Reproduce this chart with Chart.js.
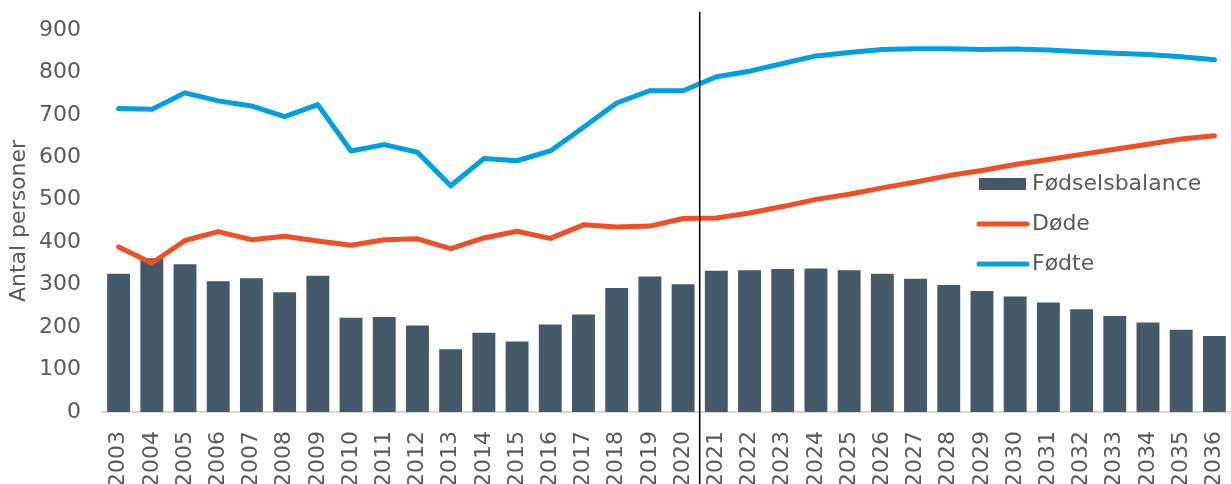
<!DOCTYPE html>
<html>
<head>
<meta charset="utf-8">
<script src="https://cdn.jsdelivr.net/npm/chart.js@4"></script>
<style>
    body { margin: 0; background: #fff; }
</style>
</head>
<body>
<canvas id="chart" width="1231" height="484"></canvas>
<script>
const years = ['2003', '2004', '2005', '2006', '2007', '2008', '2009', '2010', '2011', '2012',
    '2013', '2014', '2015', '2016', '2017', '2018', '2019', '2020', '2021', '2022', '2023',
    '2024', '2025', '2026', '2027', '2028', '2029', '2030', '2031', '2032', '2033', '2034',
    '2035', '2036'];

// Fødte (births)
const fodte = [715, 713, 752, 733, 721, 696, 724, 615, 630, 612, 533, 597, 592, 615, 671, 728,
    757, 757, 790, 803, 821, 839, 847, 854, 856, 856, 854, 855, 853, 849, 845, 842, 837, 830];

// Døde (deaths)
const dode = [389, 351, 404, 425, 406, 414, 403, 393, 406, 408, 385, 410, 426, 409, 441, 436,
    438, 456, 457, 469, 484, 501, 513, 528, 542, 557, 569, 583, 595, 607, 619, 631, 643, 651];

// Fødselsbalance (births minus deaths)
const balance = [326, 362, 348, 308, 315, 282, 321, 222, 224, 204, 148, 187, 166, 206, 230, 292,
    319, 301, 333, 334, 337, 338, 334, 326, 314, 299, 285, 272, 258, 242, 226, 211, 194, 179];

const yTicks = [0, 100, 200, 300, 400, 500, 600, 700, 800, 900];

const textColor = '#595959';
const fontFamily = '"DejaVu Sans", Verdana, sans-serif';

// legend drawn inside the plot area, like the original
const insideLegend = {
    id: 'insideLegend',
    afterDraw(chart) {
        const ctx = chart.ctx;
        const items = [0, 1, 2];
        ctx.save();
        ctx.font = '22px ' + fontFamily;
        ctx.textBaseline = 'middle';
        items.forEach((i, n) => {
            const ds = chart.data.datasets[i];
            const y = 184 + n * 40;
            if (ds.type === 'bar') {
                ctx.fillStyle = ds.backgroundColor;
                ctx.fillRect(979, y - 6, 47, 12);
            } else {
                ctx.strokeStyle = ds.borderColor;
                ctx.lineWidth = 5;
                ctx.lineCap = 'round';
                ctx.beginPath();
                ctx.moveTo(979, y);
                ctx.lineTo(1027, y);
                ctx.stroke();
            }
            ctx.fillStyle = textColor;
            ctx.fillText(ds.label, 1032, y);
        });
        ctx.restore();
    }
};

// black divider between observed and projected years
const divider = {
    id: 'divider',
    afterDatasetsDraw(chart) {
        const x = chart.scales.x;
        const px = (x.getPixelForValue(17) + x.getPixelForValue(18)) / 2;
        const ctx = chart.ctx;
        ctx.save();
        ctx.strokeStyle = '#000';
        ctx.lineWidth = 1.5;
        ctx.beginPath();
        ctx.moveTo(px, 12);
        ctx.lineTo(px, chart.height);
        ctx.stroke();
        ctx.restore();
    }
};

const chart = new Chart(document.getElementById('chart'), {
    data: {
        labels: years,
        datasets: [
            {
                type: 'bar',
                label: 'Fødselsbalance',
                data: balance,
                backgroundColor: '#445a69',
                categoryPercentage: 1,
                barPercentage: 0.69,
                order: 3
            },
            {
                type: 'line',
                label: 'Døde',
                data: dode,
                borderColor: '#f04e23',
                borderWidth: 5,
                borderCapStyle: 'round',
                borderJoinStyle: 'round',
                pointRadius: 0,
                tension: 0,
                order: 2
            },
            {
                type: 'line',
                label: 'Fødte',
                data: fodte,
                borderColor: '#009fdf',
                borderWidth: 5,
                borderCapStyle: 'round',
                borderJoinStyle: 'round',
                pointRadius: 0,
                tension: 0,
                order: 1
            }
        ]
    },
    options: {
        responsive: false,
        animation: false,
        layout: { padding: { top: 30, right: 0, left: 0, bottom: 0 } },
        plugins: {
            legend: { display: false },
            tooltip: { enabled: false }
        },
        scales: {
            x: {
                offset: true,
                grid: { display: false, drawTicks: false },
                border: { display: true, color: '#d9d9d9', width: 2 },
                ticks: {
                    color: textColor,
                    font: { family: fontFamily, size: 22 },
                    minRotation: 90,
                    maxRotation: 90,
                    autoSkip: false,
                    padding: 19
                },
                afterFit(scale) {
                    scale.height = 72;
                    scale.paddingLeft = 0;
                    scale.paddingRight = 0;
                }
            },
            y: {
                min: 0,
                max: 900,
                afterBuildTicks(scale) {
                    scale.ticks = yTicks.map(v => ({ value: v }));
                },
                grid: { display: false, drawTicks: false },
                border: { display: false },
                ticks: {
                    color: textColor,
                    font: { family: fontFamily, size: 22 },
                    padding: 21
                },
                title: {
                    display: true,
                    text: 'Antal personer',
                    color: textColor,
                    font: { family: fontFamily, size: 22 },
                    padding: { top: 6, bottom: 0 }
                },
                afterFit(scale) {
                    scale.width = 102;
                    scale.paddingTop = 0;
                    scale.paddingBottom = 0;
                }
            }
        }
    },
    plugins: [insideLegend, divider]
});
</script>
</body>
</html>
